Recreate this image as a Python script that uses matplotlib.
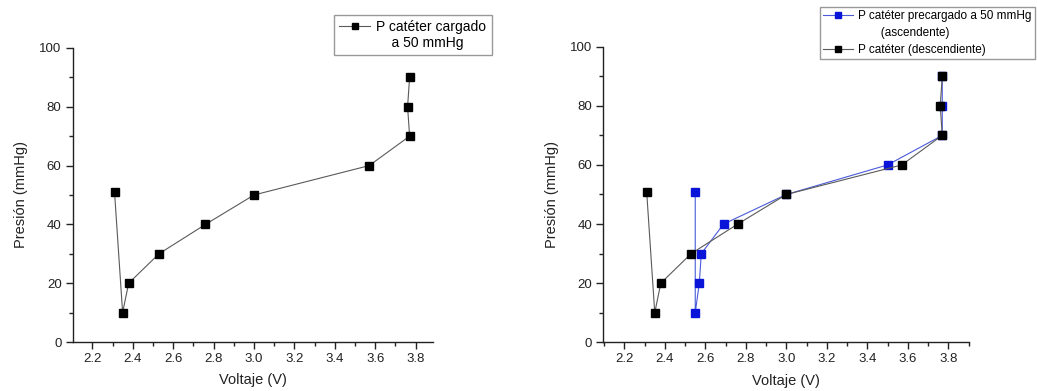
import matplotlib
matplotlib.use("Agg")
import matplotlib.pyplot as plt
from matplotlib.lines import Line2D
from matplotlib.ticker import MultipleLocator

plt.rcParams['font.family'] = ['Liberation Sans', 'DejaVu Sans']

# Data
volt_desc = [2.31, 2.35, 2.38, 2.53, 2.76, 3.00, 3.57, 3.77, 3.76, 3.77]
pres_desc = [51, 10, 20, 30, 40, 50, 60, 70, 80, 90]
volt_asc = [2.55, 2.55, 2.57, 2.58, 2.69, 3.00, 3.50, 3.77, 3.77, 3.77]
pres_asc = [51, 10, 20, 30, 40, 50, 60, 70, 80, 90]

label_left = "P catéter cargado"
label_left2 = "    a 50 mmHg"
label_asc = "P catéter precargado a 50 mmHg"
label_asc2 = "       (ascendente)"
label_desc = "P catéter (descendiente)"
xticks = [2.2, 2.4, 2.6, 2.8, 3.0, 3.2, 3.4, 3.6, 3.8]
yticks = [0, 20, 40, 60, 80, 100]

BLACK_LINE = '#5a5a5a'
BLUE_LINE = '#4a5ad8'
BLUE_MK = '#0a14d8'

fig = plt.figure(figsize=(10.37, 3.91), dpi=100)
ax1 = fig.add_axes([0.0701, 0.1253, 0.3475, 0.752])
ax2 = fig.add_axes([0.5818, 0.1246, 0.353, 0.756])


def style(ax, xl):
    ax.set_xlim(*xl)
    ax.set_ylim(0, 100)
    for s in ['top', 'right']:
        ax.spines[s].set_visible(False)
    for s in ['left', 'bottom']:
        ax.spines[s].set_linewidth(1.0)
        ax.spines[s].set_color('#222222')
    ax.set_xticks(xticks)
    ax.set_xticklabels([f"{t:.1f}" for t in xticks])
    ax.set_yticks(yticks)
    ax.xaxis.set_minor_locator(MultipleLocator(0.1))
    ax.yaxis.set_minor_locator(MultipleLocator(10))
    ax.tick_params(which='major', direction='out', length=5, width=1, labelsize=9.5, colors='#222222', pad=3)
    ax.tick_params(which='minor', direction='out', length=3, width=1, colors='#222222')
    ax.set_xlabel("Voltaje (V)", fontsize=10.5, color='#222222', labelpad=6)
    ax.set_ylabel("Presión (mmHg)", fontsize=10.5, color='#222222', labelpad=8)


style(ax1, (2.103, 3.886))
style(ax2, (2.096, 3.904))

MS = 5.2
ax1.plot(volt_desc, pres_desc, color=BLACK_LINE, lw=0.8, marker='s', ms=MS,
         mfc='black', mec='black', clip_on=False)

ax2.plot(volt_asc, pres_asc, color=BLUE_LINE, lw=0.8, marker='s', ms=MS,
         mfc=BLUE_MK, mec=BLUE_MK, clip_on=False, zorder=2)
ax2.plot(volt_desc, pres_desc, color=BLACK_LINE, lw=0.8, marker='s', ms=MS,
         mfc='black', mec='black', clip_on=False, zorder=3)

h_black = Line2D([], [], color=BLACK_LINE, lw=0.8, marker='s', ms=4, mfc='black', mec='black')
h_blue = Line2D([], [], color=BLUE_LINE, lw=0.8, marker='s', ms=4, mfc=BLUE_MK, mec=BLUE_MK)
h_none = Line2D([], [], color='none')

leg1 = fig.legend([h_black, h_none], [label_left, label_left2], loc='upper left',
                  bbox_to_anchor=(0.3218, 0.9624), fontsize=10, frameon=True,
                  fancybox=False, edgecolor='#808080', handlelength=2.2,
                  handletextpad=0.45, labelspacing=0.1, borderpad=0.4,
                  borderaxespad=0)
leg1.get_frame().set_linewidth(1.0)

leg2 = fig.legend([h_blue, h_none, h_black], [label_asc, label_asc2, label_desc],
                  loc='upper left', bbox_to_anchor=(0.7905, 0.983), fontsize=8.5,
                  frameon=True, fancybox=False, edgecolor='#808080',
                  handlelength=2.5, handletextpad=0.45, labelspacing=0.4,
                  borderpad=0.3, borderaxespad=0)
leg2.get_frame().set_linewidth(1.0)

fig.savefig("out.png", dpi=100)
